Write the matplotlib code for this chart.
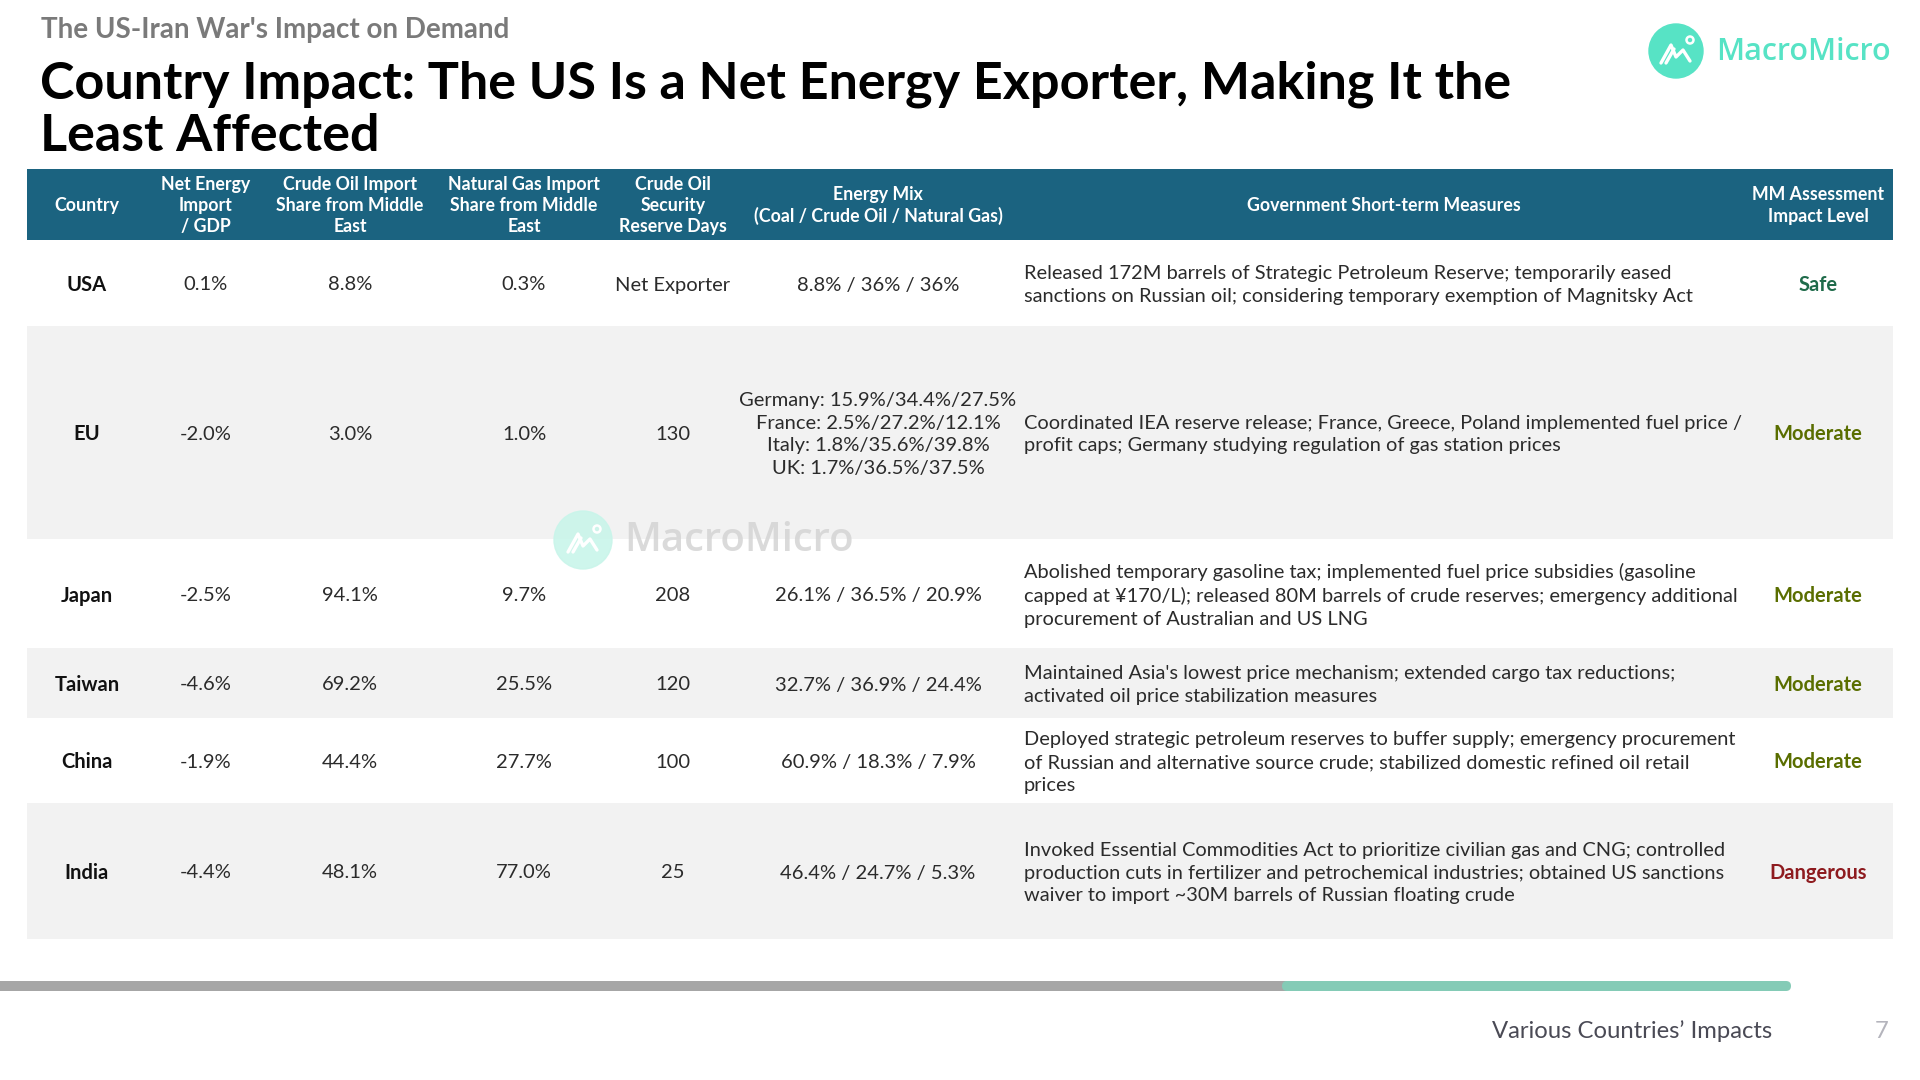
import matplotlib
matplotlib.use("Agg")
import matplotlib.pyplot as plt
from matplotlib.patches import Rectangle, FancyBboxPatch, Circle

plt.rcParams['font.family'] = ['Lato', 'DejaVu Sans']

# ---------------- data ----------------
subtitle = "The US-Iran War's Impact on Demand"
title_lines = ["Country Impact: The US Is a Net Energy Exporter, Making It the",
               "Least Affected"]

headers = ["Country", "Net Energy\nImport\n/ GDP", "Crude Oil Import\nShare from Middle\nEast",
           "Natural Gas Import\nShare from Middle\nEast", "Crude Oil\nSecurity\nReserve Days",
           "Energy Mix\n(Coal / Crude Oil / Natural Gas)", "Government Short-term Measures",
           "MM Assessment\nImpact Level"]

countries = ["USA", "EU", "Japan", "Taiwan", "China", "India"]
net_energy_gdp = ["0.1%", "-2.0%", "-2.5%", "-4.6%", "-1.9%", "-4.4%"]
crude_me_share = ["8.8%", "3.0%", "94.1%", "69.2%", "44.4%", "48.1%"]
gas_me_share = ["0.3%", "1.0%", "9.7%", "25.5%", "27.7%", "77.0%"]
reserve_days = ["Net Exporter", "130", "208", "120", "100", "25"]
energy_mix = ["8.8% / 36% / 36%",
              "Germany: 15.9%/34.4%/27.5%\nFrance: 2.5%/27.2%/12.1%\nItaly: 1.8%/35.6%/39.8%\nUK: 1.7%/36.5%/37.5%",
              "26.1% / 36.5% / 20.9%",
              "32.7% / 36.9% / 24.4%",
              "60.9% / 18.3% / 7.9%",
              "46.4% / 24.7% / 5.3%"]
measures = [
    "Released 172M barrels of Strategic Petroleum Reserve; temporarily eased\nsanctions on Russian oil; considering temporary exemption of Magnitsky Act",
    "Coordinated IEA reserve release; France, Greece, Poland implemented fuel price /\nprofit caps; Germany studying regulation of gas station prices",
    "Abolished temporary gasoline tax; implemented fuel price subsidies (gasoline\ncapped at \u00a5170/L); released 80M barrels of crude reserves; emergency additional\nprocurement of Australian and US LNG",
    "Maintained Asia's lowest price mechanism; extended cargo tax reductions;\nactivated oil price stabilization measures",
    "Deployed strategic petroleum reserves to buffer supply; emergency procurement\nof Russian and alternative source crude; stabilized domestic refined oil retail\nprices",
    "Invoked Essential Commodities Act to prioritize civilian gas and CNG; controlled\nproduction cuts in fertilizer and petrochemical industries; obtained US sanctions\nwaiver to import ~30M barrels of Russian floating crude",
]
impact_levels = ["Safe", "Moderate", "Moderate", "Moderate", "Moderate", "Dangerous"]

footer_text = "Various Countries\u2019 Impacts"
page_number = "7"

# ---------------- layout ----------------
W, H = 1920, 1080
TABLE_L, TABLE_R = 27, 1893
HEAD_T, HEAD_B = 169, 240
row_edges = [240, 326, 539, 648, 718, 803, 939]
col_x = [87, 206, 350, 524, 673, 878, 1384, 1818]
measure_x = 1024

HEADER_BG = "#1b6380"
ROW_GREY = "#f2f2f2"
TEXT = "#2b2b2b"
level_colors = {"Safe": "#1f6b4a", "Moderate": "#5a6e00", "Dangerous": "#8e1b1f"}

fig = plt.figure(figsize=(19.2, 10.8), dpi=100)
ax = fig.add_axes([0, 0, 1, 1])
ax.set_xlim(0, W)
ax.set_ylim(H, 0)
ax.axis("off")

# titles
ax.text(41, 38, subtitle, fontsize=20, fontweight="bold", color="#7a7a7a", va="baseline", ha="left")
ax.text(40, 98, title_lines[0], fontsize=37.5, fontweight="bold", color="#000000", va="baseline", ha="left")
ax.text(40, 151, title_lines[1], fontsize=37.5, fontweight="bold", color="#000000", va="baseline", ha="left")

# logo top-right
lx, ly, lr = 1676, 51, 27
ax.add_patch(Circle((lx, ly), lr, color="#57e3c5", zorder=3))
ax.plot([lx - 15, lx - 5, lx, lx + 7, lx + 14], [ly + 12, ly - 6, ly + 6, ly - 1, ly + 10], color="white",
        lw=2.4, zorder=4, solid_capstyle="round", solid_joinstyle="round")
ax.plot([lx - 10, lx - 2], [ly + 12, ly - 2], color="white", lw=2.4, zorder=4, solid_capstyle="round")
ax.add_patch(Circle((lx + 14, ly - 11), 3.5, fill=False, ec="white", lw=1.8, zorder=4))
ax.text(1716, 52, "MacroMicro", fontsize=22, fontweight="semibold", family=["Open Sans", "DejaVu Sans"],
        color="#57e3c5", va="center", ha="left")

# header band
ax.add_patch(Rectangle((TABLE_L, HEAD_T), TABLE_R - TABLE_L, HEAD_B - HEAD_T, color=HEADER_BG, lw=0, zorder=1))
for x, h in zip(col_x, headers):
    ax.text(x, (HEAD_T + HEAD_B) / 2 + 1, h, fontsize=12.8, fontweight="bold", color="white",
            ha="center", va="center", linespacing=1.3, zorder=2)

# rows
for i in range(len(countries)):
    top, bot = row_edges[i], row_edges[i + 1]
    yc = (top + bot) / 2 + 2
    if i % 2 == 1:
        ax.add_patch(Rectangle((TABLE_L, top), TABLE_R - TABLE_L, bot - top, color=ROW_GREY, lw=0, zorder=1))
    ax.text(col_x[0], yc, countries[i], fontsize=14.5, fontweight="bold", color="#111111", ha="center", va="center", zorder=3)
    for x, val in zip(col_x[1:5], [net_energy_gdp[i], crude_me_share[i], gas_me_share[i], reserve_days[i]]):
        ax.text(x, yc, val, fontsize=14.5, color=TEXT, ha="center", va="center", zorder=3)
    ax.text(col_x[5], yc, energy_mix[i], fontsize=14.5, color=TEXT, ha="center", va="center",
            linespacing=1.4, zorder=3)
    ax.text(measure_x, yc, measures[i], fontsize=14.4, color=TEXT, ha="left", va="center",
            linespacing=1.41, zorder=3)
    ax.text(col_x[7], yc, impact_levels[i], fontsize=14.5, fontweight="bold",
            color=level_colors[impact_levels[i]], ha="center", va="center", zorder=3)

# watermark
wx, wy, wr = 583, 540, 29
ax.add_patch(Circle((wx, wy), wr, color="#c9f5ea", alpha=0.9, zorder=4))
ax.plot([wx - 15, wx - 5, wx, wx + 7, wx + 14], [wy + 12, wy - 6, wy + 6, wy - 1, wy + 10], color="white",
        lw=2.4, zorder=5, solid_capstyle="round", solid_joinstyle="round")
ax.plot([wx - 10, wx - 2], [wy + 12, wy - 2], color="white", lw=2.4, zorder=5, solid_capstyle="round")
ax.add_patch(Circle((wx + 14, wy - 11), 3.5, fill=False, ec="white", lw=1.8, zorder=5))
ax.text(624, 541, "MacroMicro", fontsize=28.8, fontweight="semibold", family=["Open Sans", "DejaVu Sans"],
        color="#d4d4d4", alpha=0.85, va="center", ha="left", zorder=5)

# footer progress bar
ax.add_patch(Rectangle((0, 981), 1290, 10, color="#a6a6a6", lw=0, zorder=2))
ax.add_patch(FancyBboxPatch((1282, 981), 1791 - 1282, 10, boxstyle="round,pad=0,rounding_size=5",
                            color="#84cbb6", lw=0, zorder=3))
ax.text(1772, 1031, footer_text, fontsize=17.2, color="#4a4a55", ha="right", va="center")
ax.text(1882, 1031, page_number, fontsize=17.2, color="#b4b4bc", ha="center", va="center")

fig.savefig("out.png", dpi=100, facecolor="white")
